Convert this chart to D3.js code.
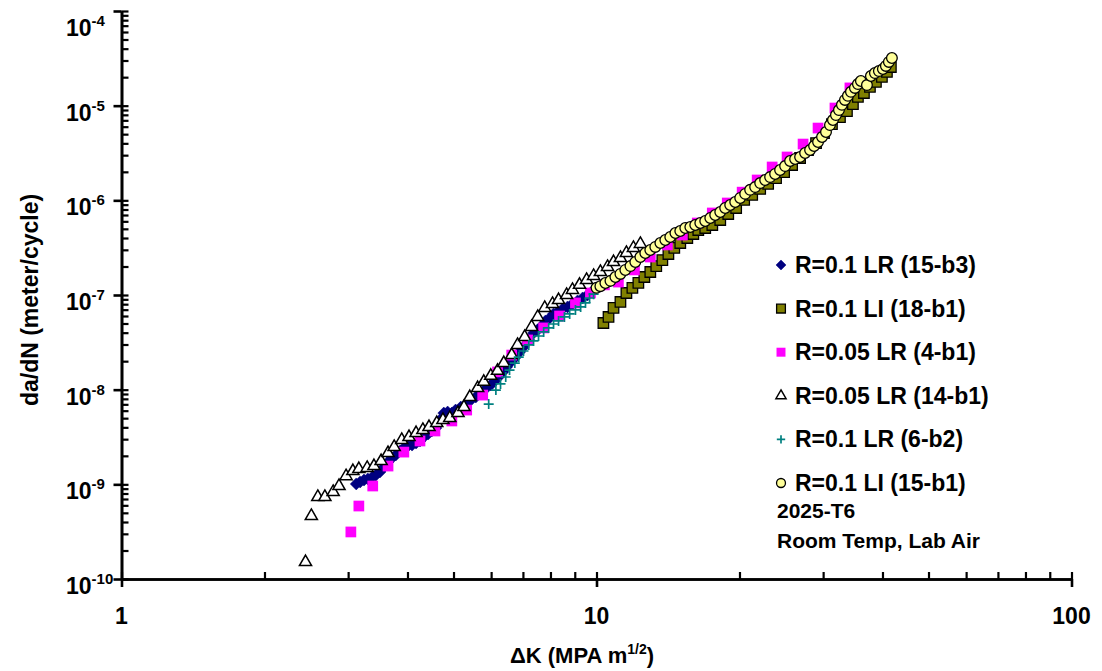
<!DOCTYPE html>
<html>
<head>
<meta charset="utf-8">
<script src="https://cdn.jsdelivr.net/npm/d3@7"></script>
<style>
  body { margin: 0; background: #fff; }
  text { font-family: "Liberation Sans", Arial, sans-serif; font-weight: bold; fill: #000; }
</style>
</head>
<body>
<svg id="chart" width="1102" height="671"></svg>
<script>
// da/dN vs delta K, one array of [deltaK, da/dN] pairs per specimen
var s15b3 = [[3.12,1.01e-9],[3.18,1.06e-9],[3.24,1.11e-9],[3.30,1.14e-9],[3.37,1.19e-9],[3.43,1.25e-9],
  [3.50,1.35e-9],[3.57,1.52e-9],[3.64,1.72e-9],[3.71,1.90e-9],[3.78,2.04e-9],[3.86,2.25e-9],[3.93,2.42e-9],
  [4.01,2.54e-9],[4.09,2.60e-9],[4.17,2.73e-9],[4.25,2.87e-9],[4.33,3.16e-9],[4.42,3.40e-9],[4.50,3.66e-9],
  [4.59,3.93e-9],[4.68,4.78e-9],[4.77,5.66e-9],[4.86,5.80e-9],[4.96,5.66e-9],[5.05,6.09e-9],[5.18,6.55e-9],
  [5.31,7.05e-9],[5.44,7.78e-9],[5.57,8.36e-9],[5.71,9.21e-9],[5.84,1.02e-8],[5.99,1.12e-8],[6.11,1.24e-8],
  [6.22,1.36e-8],[6.35,1.54e-8],[6.47,1.74e-8],[6.60,1.96e-8],[6.76,2.21e-8],[6.89,2.50e-8],[7.02,2.83e-8],
  [7.20,3.35e-8],[7.37,3.97e-8],[7.52,4.27e-8],[7.66,4.70e-8],[7.81,5.32e-8],[7.97,5.72e-8],[8.12,6.31e-8],
  [8.28,6.62e-8],[8.48,7.12e-8],[8.69,7.48e-8],[8.90,8.05e-8],[9.12,8.65e-8],[9.35,9.30e-8],[9.57,1.00e-7],
  [9.81,1.10e-7]];

var s18b1 = [[10.34,5.06e-8],[10.60,5.86e-8],[10.86,7.30e-8],[11.23,8.44e-8],[11.56,1.05e-7],[11.90,1.19e-7],
  [12.25,1.34e-7],[12.61,1.55e-7],[12.98,1.75e-7],[13.36,2.02e-7],[13.76,2.34e-7],[14.17,2.71e-7],[14.58,3.14e-7],
  [15.01,3.54e-7],[15.53,4.00e-7],[15.99,4.41e-7],[16.38,4.86e-7],[16.94,5.10e-7],[17.53,5.49e-7],[18.22,6.20e-7],
  [18.94,7.17e-7],[19.68,8.30e-7],[20.46,1.01e-6],[21.27,1.14e-6],[22.11,1.32e-6],[22.98,1.49e-6],[23.88,1.72e-6],
  [24.83,1.99e-6],[25.81,2.36e-6],[26.83,2.80e-6],[27.88,3.40e-6],[28.99,4.03e-6],[30.13,5.14e-6],[31.31,6.39e-6],
  [32.55,7.58e-6],[33.67,8.77e-6],[34.66,1.04e-5],[35.51,1.24e-5],[36.56,1.36e-5],[37.64,1.58e-5],[38.75,1.78e-5],
  [39.89,2.01e-5],[40.87,2.27e-5],[41.66,2.56e-5]];

var s4b1 = [[3.04,3.14e-10],[3.16,5.90e-10],[3.38,9.60e-10],[3.64,1.56e-9],[3.93,2.19e-9],[4.25,2.87e-9],
  [4.57,3.66e-9],[4.96,4.67e-9],[5.33,6.09e-9],[5.76,8.77e-9],[6.19,1.54e-8],[6.63,2.32e-8],[7.16,3.35e-8],
  [7.74,4.49e-8],[8.36,6.00e-8],[9.03,8.24e-8],[9.71,1.05e-7],[10.39,1.28e-7],[11.12,1.37e-7],[12.02,1.84e-7],
  [12.98,2.52e-7],[14.10,3.38e-7],[15.16,4.30e-7],[16.30,5.76e-7],[17.53,7.35e-7],[18.85,9.37e-7],[20.26,1.22e-6],
  [21.79,1.64e-6],[23.43,2.25e-6],[25.19,2.87e-6],[27.22,3.93e-6],[29.27,5.80e-6],[31.77,9.44e-6],[34.16,1.54e-5]];

var s14b1 = [[2.44,1.51e-10],[2.51,4.63e-10],[2.59,7.35e-10],[2.68,7.35e-10],[2.79,8.30e-10],[2.87,9.60e-10],
  [2.97,1.22e-9],[3.07,1.38e-9],[3.16,1.45e-9],[3.29,1.49e-9],[3.40,1.56e-9],[3.52,1.76e-9],[3.64,2.14e-9],
  [3.75,2.48e-9],[3.89,2.94e-9],[4.03,3.16e-9],[4.17,3.48e-9],[4.31,3.75e-9],[4.44,4.03e-9],[4.61,4.44e-9],
  [4.75,4.78e-9],[4.91,5.02e-9],[5.11,5.66e-9],[5.26,6.55e-9],[5.41,8.36e-9],[5.62,1.04e-8],[5.79,1.21e-8],
  [5.99,1.40e-8],[6.19,1.58e-8],[6.38,1.91e-8],[6.63,2.32e-8],[6.82,2.97e-8],[7.06,3.60e-8],[7.30,4.60e-8],
  [7.52,5.86e-8],[7.78,7.30e-8],[8.08,8.05e-8],[8.32,8.85e-8],[8.65,1.00e-7],[8.90,1.13e-7],[9.21,1.28e-7],
  [9.53,1.44e-7],[9.86,1.59e-7],[10.19,1.75e-7],[10.55,1.98e-7],[10.86,2.23e-7],[11.23,2.46e-7],[11.56,2.78e-7],
  [11.96,3.14e-7],[12.37,3.46e-7]];

var s6b2 = [[5.93,7.05e-9],[6.14,9.90e-9],[6.28,1.15e-8],[6.44,1.36e-8],[6.56,1.61e-8],[6.73,1.91e-8],
  [6.86,2.21e-8],[7.02,2.56e-8],[7.20,2.97e-8],[7.37,3.27e-8],[7.55,3.69e-8],[7.74,4.07e-8],[7.93,4.49e-8],
  [8.12,4.94e-8],[8.32,5.32e-8],[8.56,5.86e-8],[8.78,6.31e-8],[9.03,6.95e-8],[9.26,7.48e-8],[9.48,8.24e-8],
  [9.67,9.30e-8],[9.86,1.02e-7]];

var s15b1 = [[10.00,1.19e-7],[10.19,1.24e-7],[10.44,1.34e-7],[10.70,1.41e-7],[10.96,1.55e-7],[11.23,1.67e-7],
  [11.50,1.84e-7],[11.79,2.02e-7],[12.07,2.23e-7],[12.37,2.52e-7],[12.67,2.78e-7],[12.98,2.99e-7],[13.30,3.22e-7],
  [13.63,3.54e-7],[13.96,3.81e-7],[14.30,4.10e-7],[14.66,4.52e-7],[15.01,4.74e-7],[15.38,5.10e-7],[15.76,5.23e-7],
  [16.14,5.49e-7],[16.54,5.76e-7],[16.94,6.05e-7],[17.36,6.51e-7],[17.78,7.00e-7],[18.22,7.53e-7],[18.66,8.30e-7],
  [19.12,8.92e-7],[19.59,9.60e-7],[20.07,1.06e-6],[20.56,1.17e-6],[21.06,1.29e-6],[21.58,1.38e-6],[22.11,1.52e-6],
  [22.65,1.64e-6],[23.20,1.76e-6],[23.77,1.90e-6],[24.35,2.09e-6],[24.95,2.30e-6],[25.56,2.60e-6],[26.19,2.73e-6],
  [26.83,2.87e-6],[27.49,3.16e-6],[28.16,3.40e-6],[28.71,3.75e-6],[29.27,4.13e-6],[29.84,4.67e-6],[30.42,5.27e-6],
  [31.01,6.24e-6],[31.46,7.05e-6],[31.92,7.95e-6],[32.39,8.98e-6],[32.86,1.02e-5],[33.35,1.15e-5],[33.83,1.27e-5],
  [34.33,1.40e-5],[35.00,1.54e-5],[35.51,1.69e-5],[36.03,1.82e-5],[37.10,1.65e-5],[37.82,2.06e-5],[38.56,2.21e-5],
  [39.31,2.32e-5],[40.08,2.44e-5],[40.67,2.63e-5],[41.26,2.90e-5],[41.87,3.19e-5]];

var seriesNames = ['R=0.1 LR (15-b3)', 'R=0.1 LI (18-b1)', 'R=0.05 LR (4-b1)',
                   'R=0.05 LR (14-b1)', 'R=0.1 LR (6-b2)', 'R=0.1 LI (15-b1)'];
var notes = ['2025-T6', 'Room Temp, Lab Air'];

var xMajor = [1, 10, 100];
var yExponents = [-10, -9, -8, -7, -6, -5, -4];

var svg = d3.select('#chart');

var x = d3.scaleLog().domain([1, 100]).range([121.5, 1071.5]);
var y = d3.scaleLog().domain([1e-10, 1e-4]).range([579, 11]);

// minor tick values, every 1..9 of each decade
var xAll = [];
[1, 10].forEach(function(d) { for (var i = 1; i <= 9; i++) xAll.push(d * i); });
xAll.push(100);
var yAll = [];
yExponents.slice(0, -1).forEach(function(e) { for (var i = 1; i <= 9; i++) yAll.push(i * Math.pow(10, e)); });
yAll.push(1e-4);
var yMajor = yExponents.map(function(e) { return Math.pow(10, e); });

// marker styles
var diamond = { draw: function(p, size) {
  var r = Math.sqrt(size / 2);
  p.moveTo(0, -r); p.lineTo(r, 0); p.lineTo(0, r); p.lineTo(-r, 0); p.closePath();
}};
var plus = { draw: function(p, size) {
  var r = Math.sqrt(size) / 2;
  p.moveTo(-r, 0); p.lineTo(r, 0); p.moveTo(0, -r); p.lineTo(0, r);
}};

var styles = [
  { type: diamond, size: 72, fill: '#000080', stroke: '#000080', sw: 0.5 },
  { type: d3.symbolSquare, size: 110, fill: '#808000', stroke: '#000', sw: 1.3 },
  { type: d3.symbolSquare, size: 115, fill: '#ff00ff', stroke: 'none', sw: 0 },
  { type: d3.symbolTriangle, size: 64, fill: '#fff', stroke: '#000', sw: 1.5 },
  { type: plus, size: 100, fill: 'none', stroke: '#008080', sw: 1.7 },
  { type: d3.symbolCircle, size: 90, fill: '#ffff99', stroke: '#000', sw: 1.3 }
];

var allSeries = [s15b3, s18b1, s4b1, s14b1, s6b2, s15b1];

allSeries.forEach(function(data, i) {
  var st = styles[i];
  svg.append('g').selectAll('path')
    .data(data)
    .enter()
    .append('path')
    .attr('d', d3.symbol().type(st.type).size(st.size))
    .attr('transform', function(d) { return 'translate(' + x(d[0]) + ',' + y(d[1]) + ')'; })
    .attr('fill', st.fill)
    .attr('stroke', st.stroke)
    .attr('stroke-width', st.sw);
});

// axes: minor ticks inside, major ticks crossing the line
function styleAxis(g, w) {
  g.selectAll('.domain').attr('stroke', '#000').attr('stroke-width', 2.6);
  g.selectAll('.tick line').attr('stroke', '#000').attr('stroke-width', w);
  g.selectAll('.tick text').remove();
}
var x0 = x(1), y0 = y(1e-10);

svg.append('g')
  .attr('transform', 'translate(' + x0 + ',0)')
  .call(d3.axisRight(y).tickValues(yAll).tickSize(7).tickSizeOuter(0).tickFormat(''))
  .call(styleAxis, 2.2);
svg.append('g')
  .attr('transform', 'translate(' + x0 + ',0)')
  .call(d3.axisLeft(y).tickValues(yMajor).tickSize(8).tickSizeOuter(0).tickFormat(''))
  .call(styleAxis, 2.6);
svg.append('g')
  .attr('transform', 'translate(0,' + y0 + ')')
  .call(d3.axisTop(x).tickValues(xAll).tickSize(7).tickSizeOuter(0).tickFormat(''))
  .call(styleAxis, 2.2);
svg.append('g')
  .attr('transform', 'translate(0,' + y0 + ')')
  .call(d3.axisBottom(x).tickValues(xMajor).tickSize(8).tickSizeOuter(0).tickFormat(''))
  .call(styleAxis, 2.6);

// tick labels
var yl = svg.append('g').selectAll('text')
  .data(yExponents)
  .enter()
  .append('text')
  .attr('x', 66)
  .attr('y', function(e) { return Math.max(y(Math.pow(10, e)) + 15, 36); })
  .style('font-size', '23px');
yl.append('tspan').text('10');
yl.append('tspan').attr('dy', -10).style('font-size', '15px').text(function(e) { return e; });

svg.append('g').selectAll('text')
  .data(xMajor)
  .enter()
  .append('text')
  .attr('x', function(d) { return x(d); })
  .attr('y', 624)
  .attr('text-anchor', 'middle')
  .style('font-size', '23px')
  .text(function(d) { return d; });

// axis titles
var xt = svg.append('text')
  .attr('x', 582)
  .attr('y', 663)
  .attr('text-anchor', 'middle')
  .style('font-size', '22px');
xt.append('tspan').text('\u0394K (MPA m');
xt.append('tspan').attr('dy', -9).style('font-size', '14px').text('1/2');
xt.append('tspan').attr('dy', 9).text(')');

svg.append('text')
  .attr('transform', 'translate(38,300) rotate(-90)')
  .attr('text-anchor', 'middle')
  .style('font-size', '23px')
  .text('da/dN (meter/cycle)');

// legend
var legend = svg.append('g');
var rows = legend.selectAll('g')
  .data(seriesNames)
  .enter()
  .append('g')
  .attr('transform', function(d, i) { return 'translate(781,' + (265 + i * 43.6) + ')'; });
rows.append('path')
  .attr('d', function(d, i) { return d3.symbol().type(styles[i].type).size(styles[i].size * 0.7)(); })
  .attr('fill', function(d, i) { return styles[i].fill; })
  .attr('stroke', function(d, i) { return styles[i].stroke; })
  .attr('stroke-width', function(d, i) { return styles[i].sw; });
rows.append('text')
  .attr('x', 14)
  .attr('y', 8)
  .style('font-size', '23px')
  .text(function(d) { return d; });

legend.selectAll('text.note')
  .data(notes)
  .enter()
  .append('text')
  .attr('class', 'note')
  .attr('x', 777)
  .attr('y', function(d, i) { return 518 + i * 30; })
  .style('font-size', '21px')
  .text(function(d) { return d; });
</script>
</body>
</html>
